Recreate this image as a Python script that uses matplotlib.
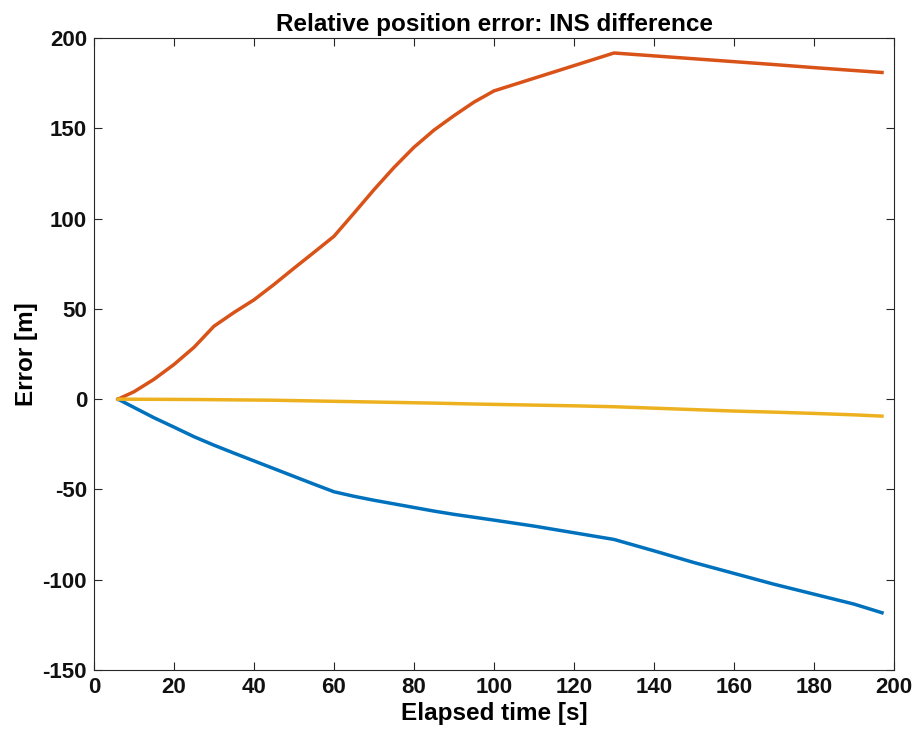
import matplotlib
matplotlib.use("Agg")
import matplotlib.pyplot as plt

t = [6, 10, 15, 20, 25, 30, 35, 40, 45, 50, 55, 60, 65, 70, 75, 80, 85, 90,
     95, 100, 110, 120, 130, 140, 150, 160, 170, 180, 190, 197]
err_x = [0, -4.6, -10.3, -15.5, -20.8, -25.5, -29.9, -34.2, -38.5, -42.8,
         -47.1, -51.3, -53.8, -56.0, -58.0, -60.0, -62.0, -63.8, -65.4,
         -67.0, -70.3, -74.0, -77.7, -84.0, -90.5, -96.5, -102.5, -108.0,
         -113.5, -118.3]
err_y = [0, 4.1, 11.0, 19.2, 28.7, 40.4, 48.0, 55.0, 63.5, 72.5, 81.3, 90.2,
         103.0, 116.0, 128.3, 139.5, 149.0, 157.0, 164.5, 170.7, 177.7,
         184.7, 191.7, 190.1, 188.5, 186.9, 185.3, 183.6, 182.0, 180.9]
err_z = [0, -0.05, -0.1, -0.15, -0.2, -0.3, -0.4, -0.5, -0.6, -0.8, -1.0,
         -1.2, -1.4, -1.6, -1.8, -2.0, -2.2, -2.45, -2.7, -2.9, -3.3, -3.7,
         -4.2, -5.0, -5.8, -6.6, -7.2, -7.9, -8.7, -9.4]

colors = ["#0072BD", "#D95319", "#EDB120"]

plt.rcParams['font.family'] = ['Liberation Sans', 'DejaVu Sans']
plt.rcParams['font.weight'] = 'bold'
plt.rcParams['axes.unicode_minus'] = False

fig = plt.figure(figsize=(9.15, 7.41), dpi=100)
ax = fig.add_axes([94/915, 1 - 670/741, 800/915, 632/741])

ax.plot(t, err_x, color=colors[0], lw=2.5)
ax.plot(t, err_y, color=colors[1], lw=2.5)
ax.plot(t, err_z, color=colors[2], lw=2.5)

ax.set_xlim(0, 200)
ax.set_ylim(-150, 200)
ax.set_xticks(range(0, 201, 20))
ax.set_yticks(range(-150, 201, 50))
ax.tick_params(direction='in', top=True, right=True, length=6, width=0.8,
               colors='#262626', labelcolor='#111111', labelsize=16, pad=5)
for lab in ax.get_xticklabels() + ax.get_yticklabels():
    lab.set_fontweight('bold')
for s in ax.spines.values():
    s.set_color('#262626')
    s.set_linewidth(0.8)

ax.set_title("Relative position error: INS difference", fontsize=17.5,
             fontweight='bold', pad=5)
ax.set_xlabel("Elapsed time [s]", fontsize=17.5, fontweight='bold', labelpad=3)
ax.set_ylabel("Error [m]", fontsize=17.5, fontweight='bold', labelpad=3)

fig.savefig("out.png", dpi=100)
